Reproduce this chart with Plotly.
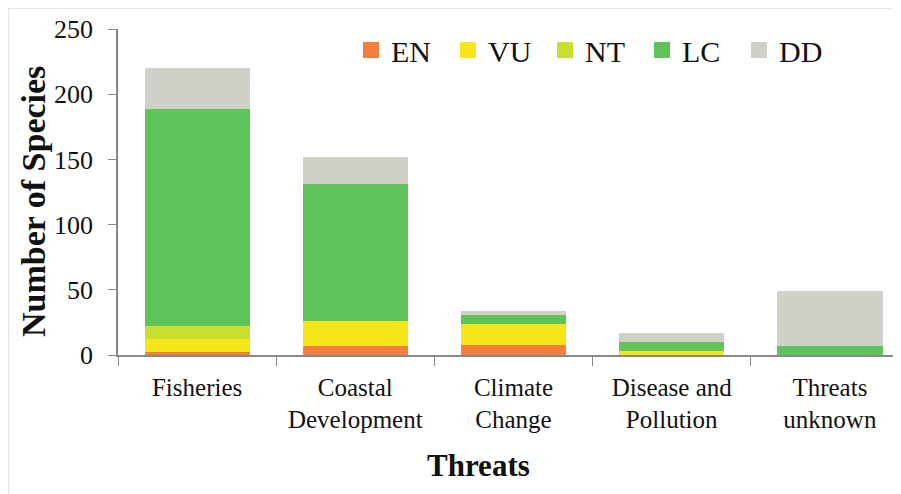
import plotly.graph_objects as go

categories = ["Fisheries", "Coastal<br>Development", "Climate<br>Change",
              "Disease and<br>Pollution", "Threats<br>unknown"]
EN = [2, 7, 8, 0, 0]
VU = [10, 19, 16, 3, 0]
NT = [10, 0, 0, 0, 0]
LC = [167, 105, 7, 7, 7]
DD = [31, 21, 3, 7, 42]

series = [("EN", EN, "#F47F3C"), ("VU", VU, "#F7E51B"), ("NT", NT, "#C9DE2E"),
          ("LC", LC, "#5EC45A"), ("DD", DD, "#D0D0C8")]

W, H = 901, 494
OFF = 8  # page offset of the figure (browser body margin)
ML, MR, MT, MB = 110, 0, 21, 147
FONT = "Liberation Serif"

fig = go.Figure()
for name, vals, col in series:
    fig.add_trace(go.Bar(x=categories, y=vals, name=name, marker_color=col,
                         marker_line_width=0, legendgroup=name, showlegend=False))
# legend entries with larger square swatches
for name, vals, col in series:
    fig.add_trace(go.Scatter(x=[None], y=[None], mode="markers", name=name,
                             legendgroup=name,
                             marker=dict(symbol="square", size=17, color=col)))

pw = W - ML - MR
ph = H - MT - MB


def px_x(x):
    return (x - OFF - ML) / pw


def px_y(y):
    return (H - MB - (y - OFF)) / ph


fig.update_layout(
    width=W, height=H,
    margin=dict(l=ML, r=MR, t=MT, b=MB, autoexpand=False),
    barmode="stack", bargap=0.335,
    plot_bgcolor="white", paper_bgcolor="white",
    font=dict(family=FONT, size=24, color="#111"),
    legend=dict(orientation="h", x=px_x(351), y=px_y(50),
                xanchor="left", yanchor="middle",
                font=dict(family=FONT, size=30), entrywidth=52, entrywidthmode="pixels",
                traceorder="normal", bgcolor="rgba(0,0,0,0)"),
    xaxis=dict(showline=True, linecolor="#888", linewidth=1.5, ticks="outside",
               tickson="boundaries", ticklen=9, tickcolor="#888",
               ticklabelstandoff=9,
               tickfont=dict(family=FONT, size=25)),
    yaxis=dict(range=[0, 250], tickvals=[0, 50, 100, 150, 200, 250],
               showline=True, linecolor="#888", linewidth=1.5, ticks="outside",
               ticklen=8, tickcolor="#888", showgrid=False, zeroline=False,
               ticklabelstandoff=10,
               tickfont=dict(family=FONT, size=26)),
    annotations=[
        dict(text="<b>Threats</b>", xref="paper", yref="paper", x=px_x(478), y=px_y(465),
             xanchor="center", yanchor="middle", showarrow=False,
             font=dict(family=FONT, size=31, color="#111")),
        dict(text="<b>Number of Species</b>", xref="paper", yref="paper", x=px_x(33),
             y=px_y(202), xanchor="center", yanchor="middle", textangle=-90,
             showarrow=False, font=dict(family=FONT, size=34, color="#111")),
    ],
    shapes=[
        dict(type="line", xref="paper", yref="paper", x0=px_x(8), x1=px_x(8),
             y0=px_y(H + OFF), y1=px_y(8), line=dict(color="#dcdcdc", width=1.5)),
        dict(type="line", xref="paper", yref="paper", x0=px_x(8), x1=1.0,
             y0=px_y(8), y1=px_y(8), line=dict(color="#dcdcdc", width=1.5)),
    ],
)

fig.write_html("out.html")
